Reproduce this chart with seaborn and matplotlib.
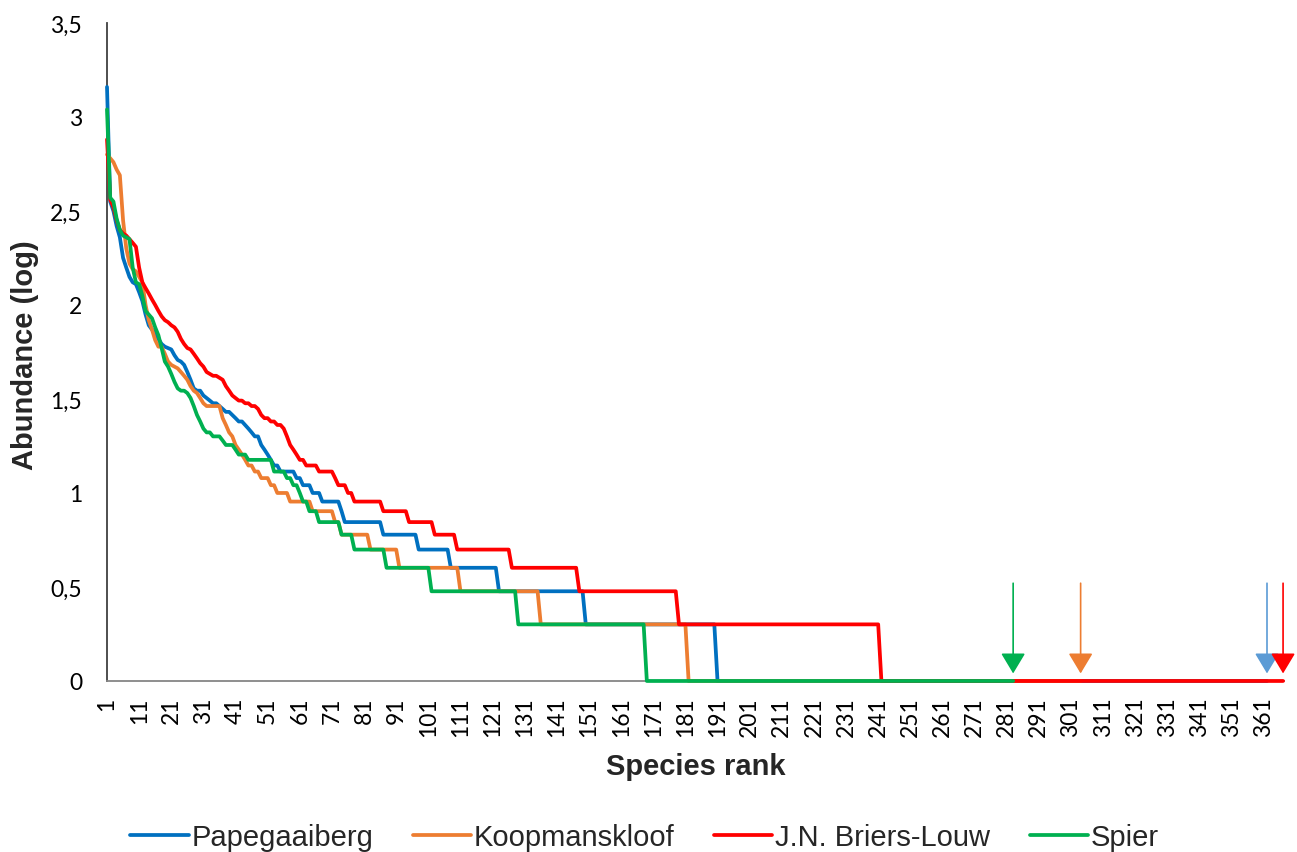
import numpy as np
import pandas as pd
import matplotlib
matplotlib.use("Agg")
import matplotlib.pyplot as plt
from matplotlib.lines import Line2D
import seaborn as sns

# Sites, drawing order (last one on top) and colours
sites = ["Papegaaiberg", "Koopmanskloof", "J.N. Briers-Louw", "Spier"]
line_colors = ["#0070C0", "#ED7D31", "#FF0000", "#00B050"]
arrow_colors = ["#5B9BD5", "#ED7D31", "#FF0000", "#00B050"]

# Rank-abundance data: individuals per species (descending) and how many
# consecutive ranks share that abundance.
pap_abund = [1445, 355, 316, 263, 229, 178, 158, 141, 132, 129,
             117, 105, 89, 78, 74, 71, 66, 62, 60, 59,
             58, 54, 51, 50, 48, 44, 40, 36, 35, 33,
             32, 31, 30, 29, 28, 27, 26, 25, 24, 23,
             22, 21, 20, 18, 17, 16, 15, 14, 13, 12,
             11, 10, 9, 8, 7, 6, 5, 4, 3, 2, 1]
pap_nspec = [1, 1, 1, 1, 1, 1, 1, 1, 1, 1,
             1, 1, 1, 1, 1, 1, 1, 1, 1, 1,
             1, 1, 1, 1, 1, 1, 1, 1, 2, 1,
             1, 1, 2, 1, 1, 2, 1, 1, 2, 1,
             1, 1, 2, 1, 1, 1, 1, 2, 5, 2,
             3, 3, 6, 1, 12, 11, 10, 15, 27, 41, 172]

koo_abund = [631, 603, 575, 525, 490, 282, 200, 166, 155, 151,
             141, 132, 100, 83, 74, 65, 60, 55, 50, 48,
             47, 46, 44, 42, 40, 37, 35, 34, 32, 30,
             29, 25, 23, 21, 20, 18, 17, 16, 15, 14,
             13, 12, 11, 10, 9, 8, 7, 6, 5, 4, 3, 2, 1]
koo_nspec = [1, 1, 1, 1, 1, 1, 1, 1, 1, 1,
             1, 1, 1, 1, 1, 1, 2, 1, 1, 1,
             1, 1, 1, 1, 1, 1, 1, 1, 1, 1,
             5, 1, 1, 1, 1, 1, 1, 1, 1, 2,
             2, 3, 2, 4, 7, 7, 2, 9, 9, 19, 25, 46, 123]

jnb_abund = [759, 363, 331, 282, 251, 240, 234, 224, 214, 204,
             158, 132, 123, 115, 107, 100, 93, 87, 83, 81,
             78, 76, 72, 66, 62, 59, 58, 55, 52, 49,
             47, 44, 43, 42, 41, 40, 37, 35, 33, 32,
             31, 30, 29, 28, 26, 25, 24, 23, 22, 20,
             18, 17, 16, 15, 14, 13, 12, 11, 10, 9,
             8, 7, 6, 5, 4, 3, 2, 1]
jnb_nspec = [1, 1, 1, 1, 1, 1, 1, 1, 1, 1,
             1, 1, 1, 1, 1, 1, 1, 1, 1, 1,
             1, 1, 1, 1, 1, 1, 1, 1, 1, 1,
             1, 1, 1, 2, 1, 1, 1, 1, 1, 1,
             2, 2, 2, 1, 1, 2, 2, 2, 1, 1,
             1, 1, 1, 2, 4, 5, 1, 3, 2, 9,
             8, 8, 7, 17, 21, 31, 63, 126]

spi_abund = [1096, 372, 355, 288, 251, 234, 229, 224, 158, 132,
             129, 112, 93, 89, 85, 76, 69, 59, 50, 47,
             43, 39, 36, 35, 34, 32, 29, 26, 24, 22,
             21, 20, 19, 18, 17, 16, 15, 13, 12, 11,
             10, 9, 8, 7, 6, 5, 4, 3, 2, 1]
spi_nspec = [1, 1, 1, 1, 1, 1, 1, 1, 1, 1,
             1, 1, 1, 1, 1, 1, 1, 1, 1, 1,
             1, 1, 1, 2, 1, 1, 1, 1, 1, 1,
             2, 3, 1, 3, 1, 3, 8, 4, 2, 2,
             1, 2, 3, 7, 4, 10, 14, 27, 40, 115]

site_abund = [pap_abund, koo_abund, jnb_abund, spi_abund]
site_nspec = [pap_nspec, koo_nspec, jnb_nspec, spi_nspec]

rank_ticks = [1, 11, 21, 31, 41, 51, 61, 71, 81, 91, 101, 111, 121, 131,
              141, 151, 161, 171, 181, 191, 201, 211, 221, 231, 241, 251,
              261, 271, 281, 291, 301, 311, 321, 331, 341, 351, 361]
y_ticks = [0, 0.5, 1, 1.5, 2, 2.5, 3, 3.5]
y_tick_labels = ["0", "0,5", "1", "1,5", "2", "2,5", "3", "3,5"]

# Long-form table: one row per species rank per site
frames = []
for site, ab, ns in zip(sites, site_abund, site_nspec):
    counts = np.repeat(ab, ns)
    frames.append(pd.DataFrame({
        "site": site,
        "rank": np.arange(1, len(counts) + 1),
        "log_abund": np.log10(counts),
    }))
df = pd.concat(frames, ignore_index=True)
richness = df.groupby("site")["rank"].max()

sns.set_theme(style="white")
plt.rcParams["font.family"] = ["Liberation Sans", "DejaVu Sans"]

fig = plt.figure(figsize=(12.97, 8.53), dpi=100)
ax = fig.add_axes([0.0825, 0.2005, 0.9075, 0.7714])

sns.lineplot(data=df, x="rank", y="log_abund", hue="site", hue_order=sites,
             palette=line_colors, linewidth=2.7, estimator=None,
             legend=False, ax=ax)
for ln in ax.lines:
    ln.set_clip_on(False)
    ln.set_zorder(3)
    ln.set_solid_joinstyle("round")

# Arrows marking the last rank of each site
for site, col in zip(sites, arrow_colors):
    n = richness[site]
    ax.annotate("", xy=(n, 0.04), xytext=(n, 0.52),
                arrowprops=dict(arrowstyle="-|>,head_length=0.45,head_width=0.27",
                                color=col, lw=1.2, mutation_scale=28,
                                shrinkA=0, shrinkB=0), zorder=4)

ax.set_xlim(1, 367.3)
ax.set_ylim(0, 3.5)

tick_font = dict(family=["Lato", "DejaVu Sans"], size=16.5)
ax.set_xticks(rank_ticks)
ax.set_xticklabels([str(t) for t in rank_ticks], rotation=90,
                   fontdict=tick_font, va="top", ha="center")
ax.set_yticks(y_ticks)
ax.set_yticklabels(y_tick_labels, fontdict=tick_font)
ax.tick_params(axis="x", length=0, pad=11, colors="black")
ax.tick_params(axis="y", length=6, width=1.2, direction="out", pad=12,
               color="#404040", labelcolor="black")

for side in ["top", "right"]:
    ax.spines[side].set_visible(False)
ax.spines["left"].set_color("#404040")
ax.spines["left"].set_linewidth(1.3)
ax.spines["bottom"].set_color("#868686")
ax.spines["bottom"].set_linewidth(1.3)
for sp in ax.spines.values():
    sp.set_zorder(1)

ax.set_xlabel("Species rank", fontsize=21, fontweight="bold")
ax.xaxis.set_label_coords(0.5, -0.129)
ax.xaxis.label.set_va("center")
ax.set_ylabel("Abundance (log)", fontsize=21, fontweight="bold")
ax.yaxis.set_label_coords(-0.0697, 0.497)
ax.yaxis.label.set_va("center")

handles = [Line2D([0], [0], color=c, lw=2.7) for c in line_colors]
fig.legend(handles, sites, loc="center", bbox_to_anchor=(0.497, 0.0176),
           ncol=4, frameon=False, fontsize=21, handlelength=2.0,
           handletextpad=0.1, columnspacing=1.35, borderpad=0.2)

fig.savefig("out.png", dpi=100)
